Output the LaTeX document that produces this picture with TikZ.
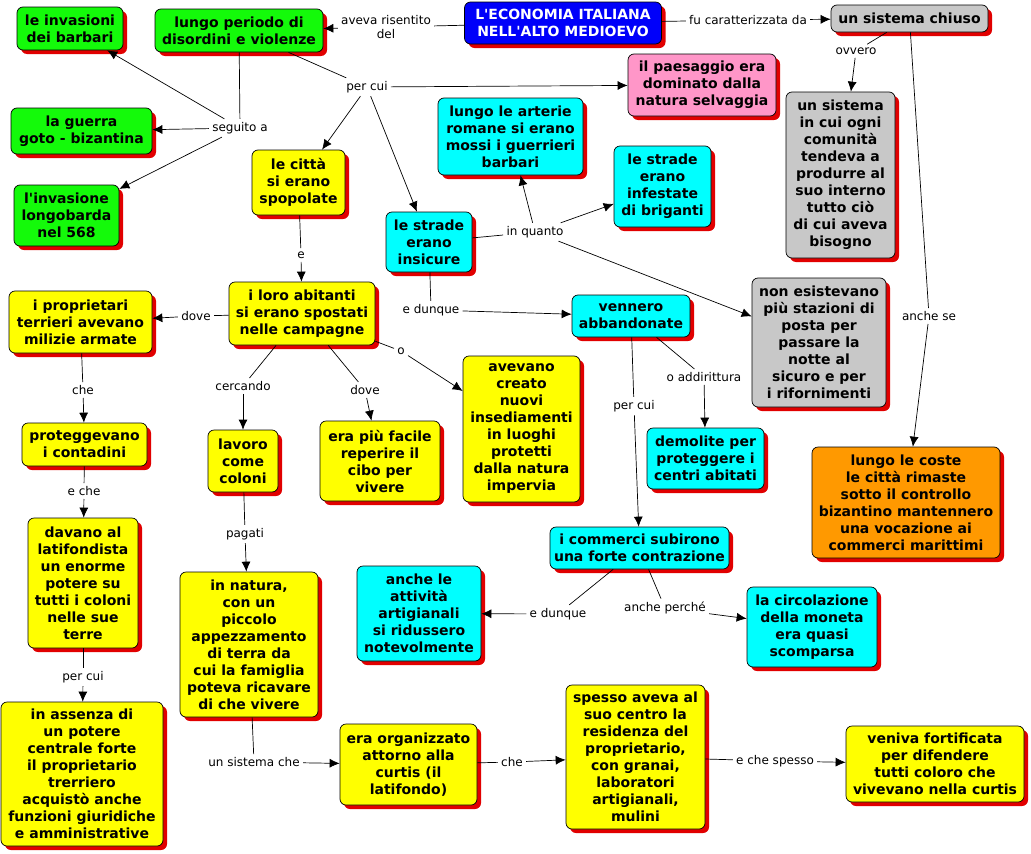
\documentclass[tikz,border=0pt]{standalone}
\usepackage{fontspec}
\setmainfont{DejaVu Sans}[Ligatures=TeXOff]
\usetikzlibrary{shadows,arrows.meta}
\definecolor{cgreen}{RGB}{20,250,10}
\definecolor{cyellow}{RGB}{255,255,0}
\definecolor{ccyan}{RGB}{0,255,255}
\definecolor{cgray}{RGB}{200,200,200}
\definecolor{cpink}{RGB}{255,150,200}
\definecolor{corange}{RGB}{255,153,0}
\definecolor{cblue}{RGB}{0,0,250}
\definecolor{cshadow}{RGB}{225,0,0}
\tikzset{
  concept/.style={draw=black,rounded corners=6pt,align=center,inner sep=3pt,
    font=\bfseries\fontsize{14}{17}\selectfont,
    drop shadow={fill=cshadow,opacity=1,shadow xshift=4pt,shadow yshift=-4pt}},
  sz/.style 2 args={minimum width=#1pt,minimum height=#2pt},
  linkl/.style={align=center,inner sep=3pt,font=\fontsize{12}{14}\selectfont},
  link/.style={-{Latex[length=10pt,width=9pt]}},
}

\begin{document}
\begin{tikzpicture}[x=1pt,y=-1pt,line width=0.7pt]
\path[use as bounding box,fill=white] (0,0) rectangle (1031,854);
% concetti
\node[concept,fill=cblue,text=white,sz={197}{42}] (title) at (563,23) {L'ECONOMIA ITALIANA\\NELL'ALTO MEDIOEVO};
\node[concept,fill=cgreen,sz={168}{43}] (periodo) at (239,30.5) {lungo periodo di\\disordini e violenze};
\node[concept,fill=cgreen,sz={106}{43}] (invasioni) at (70,28.5) {le invasioni\\dei barbari};
\node[concept,fill=cgreen,sz={141}{46}] (guerra) at (81.5,131) {la guerra\\goto - bizantina};
\node[concept,fill=cgreen,sz={105}{61}] (longobardi) at (66.5,215.5) {l'invasione\\longobarda\\nel 568};
\node[concept,fill=cgray,sz={157}{27}] (chiuso) at (909.5,18.5) {un sistema chiuso};
\node[concept,fill=cpink,sz={148}{62}] (paesaggio) at (702,85) {il paesaggio era\\dominato dalla\\natura selvaggia};
\node[concept,fill=ccyan,sz={145}{77}] (arterie) at (510.5,136.5) {lungo le arterie\\romane si erano\\mossi i guerrieri\\barbari};
\node[concept,fill=ccyan,sz={97}{81}] (briganti) at (662.5,186.5) {le strade\\erano\\infestate\\di briganti};
\node[concept,fill=cgray,sz={109}{166}] (comunita) at (840.5,175) {un sistema\\in cui ogni\\comunità\\tendeva a\\produrre al\\suo interno\\tutto ciò\\di cui aveva\\bisogno};
\node[concept,fill=cyellow,sz={93}{65}] (citta) at (298.5,182.5) {le città\\si erano\\spopolate};
\node[concept,fill=ccyan,sz={86}{60}] (insicure) at (429,242) {le strade\\erano\\insicure};
\node[concept,fill=cyellow,sz={146}{63}] (abitanti) at (302,313.5) {i loro abitanti\\si erano spostati\\nelle campagne};
\node[concept,fill=cyellow,sz={143}{62}] (proprietari) at (80.5,322) {i proprietari\\terrieri avevano\\milizie armate};
\node[concept,fill=ccyan,sz={118}{42}] (abbandonate) at (631,316) {vennero\\abbandonate};
\node[concept,fill=cgray,sz={134}{129}] (stazioni) at (819,342.5) {non esistevano\\più stazioni di\\posta per\\passare la\\notte al\\sicuro e per\\i rifornimenti};
\node[concept,fill=cyellow,sz={125}{43}] (contadini) at (84.5,444.5) {proteggevano\\i contadini};
\node[concept,fill=cyellow,sz={70}{62}] (coloni) at (243,461) {lavoro\\come\\coloni};
\node[concept,fill=cyellow,sz={120}{80}] (cibo) at (380,461) {era più facile\\reperire il\\cibo per\\vivere};
\node[concept,fill=cyellow,sz={117}{146}] (insediamenti) at (521.5,429) {avevano\\creato\\nuovi\\insediamenti\\in luoghi\\protetti\\dalla natura\\impervia};
\node[concept,fill=ccyan,sz={117}{61}] (demolite) at (705.5,458.5) {demolite per\\proteggere i\\centri abitati};
\node[concept,fill=corange,sz={188}{111}] (coste) at (906,502.5) {lungo le coste\\le città rimaste\\sotto il controllo\\bizantino mantennero\\una vocazione ai\\commerci marittimi};
\node[concept,fill=cyellow,sz={110}{130}] (latifondista) at (83,583) {davano al\\latifondista\\un enorme\\potere su\\tutti i coloni\\nelle sue\\terre};
\node[concept,fill=ccyan,sz={179}{42}] (commerci) at (639.5,548) {i commerci subirono\\una forte contrazione};
\node[concept,fill=ccyan,sz={124}{95}] (artigiani) at (419,613.5) {anche le\\attività\\artigianali\\si ridussero\\notevolmente};
\node[concept,fill=ccyan,sz={130}{80}] (moneta) at (812,627) {la circolazione\\della moneta\\era quasi\\scomparsa};
\node[concept,fill=cyellow,sz={138}{145}] (natura) at (249,644.5) {in natura,\\con un\\piccolo\\appezzamento\\di terra da\\cui la famiglia\\poteva ricavare\\di che vivere};
\node[concept,fill=cyellow,sz={162}{144}] (assenza) at (82,774) {in assenza di\\un potere\\centrale forte\\il proprietario\\trerriero\\acquistò anche\\funzioni giuridiche\\e amministrative};
\node[concept,fill=cyellow,sz={137}{81}] (curtis) at (408.5,764.5) {era organizzato\\attorno alla\\curtis (il\\latifondo)};
\node[concept,fill=cyellow,sz={139}{144}] (residenza) at (635.5,757) {spesso aveva al\\suo centro la\\residenza del\\proprietario,\\con granai,\\laboratori\\artigianali,\\mulini};
\node[concept,fill=cyellow,sz={178}{76}] (fortificata) at (935,764) {veniva fortificata\\per difendere\\tutti coloro che\\vivevano nella curtis};
% frasi legame
\node[linkl] (risentito) at (386,27) {aveva risentito\\del};
\node[linkl] (caratt) at (748,20) {fu caratterizzata da};
\node[linkl] (seguito) at (240,128) {seguito a};
\node[linkl] (percuiA) at (367,87) {per cui};
\node[linkl] (ovvero) at (856,51) {ovvero};
\node[linkl] (anchese) at (929,316) {anche se};
\node[linkl] (inquanto) at (535,232) {in quanto};
\node[linkl] (e) at (301,255) {e};
\node[linkl] (edunqueA) at (431,310) {e dunque};
\node[linkl] (doveA) at (196,316) {dove};
\node[linkl] (cercando) at (243,386) {cercando};
\node[linkl] (doveB) at (365,390) {dove};
\node[linkl] (o) at (401,351) {o};
\node[linkl] (che) at (83,390) {che};
\node[linkl] (eche) at (84,491) {e che};
\node[linkl] (percuiB) at (83,677) {per cui};
\node[linkl] (pagati) at (245,534) {pagati};
\node[linkl] (sistemache) at (254,762) {un sistema che};
\node[linkl] (cheB) at (512,762) {che};
\node[linkl] (echespesso) at (775,761) {e che spesso};
\node[linkl] (percuiC) at (634,406) {per cui};
\node[linkl] (addirittura) at (704,377) {o addirittura};
\node[linkl] (edunqueB) at (558,614) {e dunque};
\node[linkl] (percheB) at (665,608) {anche perché};
% collegamenti
\draw (title) -- (risentito);
\draw[link] (risentito) -- (periodo);
\draw (title) -- (caratt);
\draw[link] (caratt) -- (chiuso);
\draw (periodo) -- (seguito);
\draw[link] (seguito) -- (invasioni);
\draw[link] (seguito) -- (guerra);
\draw[link] (seguito) -- (longobardi);
\draw (periodo) -- (percuiA);
\draw[link] (percuiA) -- (paesaggio);
\draw[link] (percuiA) -- (citta);
\draw[link] (percuiA) -- (insicure);
\draw (chiuso) -- (ovvero);
\draw[link] (ovvero) -- (comunita);
\draw (chiuso) -- (anchese);
\draw[link] (anchese) -- (coste);
\draw (insicure) -- (inquanto);
\draw[link] (inquanto) -- (arterie);
\draw[link] (inquanto) -- (briganti);
\draw[link] (inquanto) -- (stazioni);
\draw (citta) -- (e);
\draw[link] (e) -- (abitanti);
\draw (insicure) -- (edunqueA);
\draw[link] (edunqueA) -- (abbandonate);
\draw (abitanti) -- (doveA);
\draw[link] (doveA) -- (proprietari);
\draw (abitanti) -- (cercando);
\draw[link] (cercando) -- (coloni);
\draw (abitanti) -- (doveB);
\draw[link] (doveB) -- (cibo);
\draw (abitanti) -- (o);
\draw[link] (o) -- (insediamenti);
\draw (proprietari) -- (che);
\draw[link] (che) -- (contadini);
\draw (contadini) -- (eche);
\draw[link] (eche) -- (latifondista);
\draw (latifondista) -- (percuiB);
\draw[link] (percuiB) -- (assenza);
\draw (coloni) -- (pagati);
\draw[link] (pagati) -- (natura);
\draw (natura) -- (sistemache);
\draw[link] (sistemache) -- (curtis);
\draw (curtis) -- (cheB);
\draw[link] (cheB) -- (residenza);
\draw (residenza) -- (echespesso);
\draw[link] (echespesso) -- (fortificata);
\draw (abbandonate) -- (percuiC);
\draw[link] (percuiC) -- (commerci);
\draw (abbandonate) -- (addirittura);
\draw[link] (addirittura) -- (demolite);
\draw (commerci) -- (edunqueB);
\draw[link] (edunqueB) -- (artigiani);
\draw (commerci) -- (percheB);
\draw[link] (percheB) -- (moneta);
\end{tikzpicture}
\end{document}
